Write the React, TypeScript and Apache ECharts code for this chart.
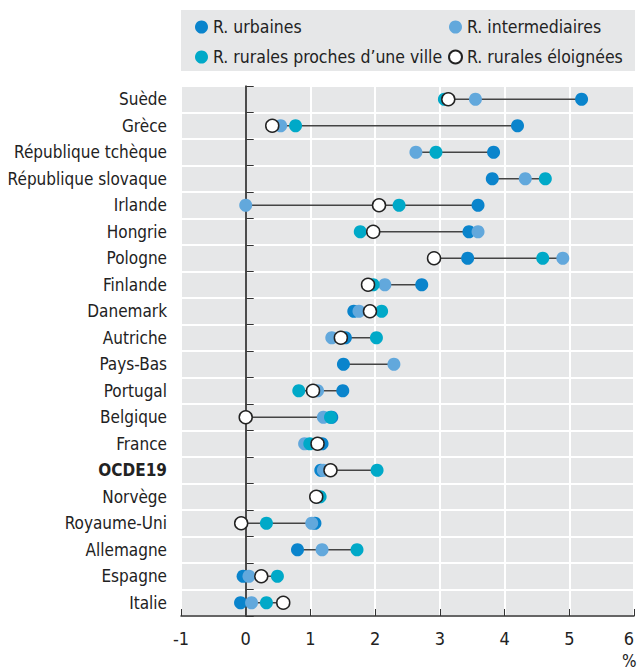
import React, { useEffect, useRef } from "react";
import * as echarts from "echarts";

const categories = [
  "Suède", "Grèce", "République tchèque", "République slovaque", "Irlande",
  "Hongrie", "Pologne", "Finlande", "Danemark", "Autriche", "Pays-Bas",
  "Portugal", "Belgique", "France", "OCDE19", "Norvège", "Royaume-Uni",
  "Allemagne", "Espagne", "Italie",
];
const urbaines = [5.19, 4.2, 3.83, 3.81, 3.59, 3.45, 3.43, 2.72, 1.67, 1.54, 1.51, 1.5, 1.33, 1.18, 1.16, 1.1, 1.07, 0.8, -0.04, -0.08];
const intermediaires = [3.55, 0.54, 2.63, 4.32, 0.0, 3.59, 4.9, 2.15, 1.75, 1.33, 2.29, 1.11, 1.2, 0.91, 1.2, 1.12, 1.02, 1.18, 0.05, 0.09];
const proches: (number | null)[] = [3.07, 0.77, 2.94, 4.63, 2.37, 1.77, 4.59, 1.97, 2.1, 2.02, null, 0.82, 1.31, 0.99, 2.03, 1.15, 0.32, 1.72, 0.49, 0.32];
const eloignees: (number | null)[] = [3.13, 0.41, null, null, 2.06, 1.97, 2.91, 1.89, 1.92, 1.47, null, 1.04, 0.0, 1.11, 1.31, 1.09, -0.07, null, 0.24, 0.58];
const xTicks = [-1, 0, 1, 2, 3, 4, 5, 6];

const names = ["R. urbaines", "R. intermediaires", "R. rurales proches d’une ville", "R. rurales éloignées"];
const colors = ["#0a84cc", "#62a8dc", "#00a9c8", "#ffffff"];
const FONT = "'DejaVu Sans Condensed', 'Liberation Sans Narrow', sans-serif";

export default function App() {
  const ref = useRef<HTMLDivElement>(null);
  useEffect(() => {
    const chart = echarts.init(ref.current!, null, { renderer: "svg" });
    const all = [urbaines, intermediaires, proches, eloignees];
    const ranges = categories.map((_, i) => {
      const vals = all.map((a) => a[i]).filter((v) => v != null) as number[];
      return [Math.min(...vals), i, Math.max(...vals)];
    });
    const toData = (arr: (number | null)[]) =>
      arr.map((v, i) => (v == null ? null : [v, i])).filter((d) => d != null);

    const scatter = (k: number) => ({
      type: "scatter",
      name: names[k],
      data: toData(all[k]),
      symbol: "circle",
      symbolSize: 13,
      z: 3 + k,
      itemStyle: {
        color: colors[k],
        opacity: 1,
        borderColor: k === 3 ? "#222" : colors[k],
        borderWidth: k === 3 ? 1.5 : 0,
      },
    });

    const s0: any = scatter(0);
    s0.markLine = {
      silent: true, symbol: "none", label: { show: false }, z: 1,
      lineStyle: { color: "#444", width: 1.5, type: "solid" },
      data: [{ xAxis: 0 }],
    };

    chart.setOption({
      animation: false,
      textStyle: { fontFamily: FONT },
      graphic: [
        { type: "rect", shape: { x: 181, y: 10, width: 454, height: 61 }, style: { fill: "#e6e7e8" }, z: -1 },
        { type: "text", x: 622, y: 652, style: { text: "%", fontSize: 17, fill: "#222", fontFamily: FONT } },
      ],
      legend: [
        {
          data: [names[0], names[2]], orient: "vertical", left: 190, top: 13, itemGap: 12,
          icon: "circle", itemWidth: 13, itemHeight: 13,
          textStyle: { fontSize: 17.5, color: "#222", fontFamily: FONT },
        },
        {
          data: [names[1], names[3]], orient: "vertical", left: 443, top: 13, itemGap: 12,
          icon: "circle", itemWidth: 13, itemHeight: 13,
          textStyle: { fontSize: 17.5, color: "#222", fontFamily: FONT },
        },
      ],
      grid: {
        left: 181, right: 3, top: 86, bottom: 55, show: true,
        backgroundColor: "#e6e7e8", borderWidth: 0,
        outerBoundsMode: "none", containLabel: false,
      },
      xAxis: {
        type: "value", min: -1, max: 6, interval: 1,
        axisLine: { show: true, lineStyle: { color: "#333", width: 1.5 } },
        axisTick: { show: true, inside: true, length: 7, lineStyle: { color: "#333" } },
        splitLine: { show: true, lineStyle: { color: "#ffffff", width: 2 } },
        axisLabel: {
          fontSize: 18, color: "#222", margin: 13, fontFamily: FONT,
          alignMaxLabel: "right",
          formatter: (v: number) => (xTicks.includes(v) ? String(v) : ""),
        },
      },
      yAxis: {
        type: "category", data: categories, inverse: true,
        axisLine: { show: true, lineStyle: { color: "#333", width: 1.5 } },
        axisTick: { show: true, inside: true, length: 8, lineStyle: { color: "#333" } },
        splitLine: { show: true, lineStyle: { color: "#ffffff", width: 2 } },
        axisLabel: {
          fontSize: 17, color: "#222", margin: 14, fontFamily: FONT,
          formatter: (v: string) => (v === "OCDE19" ? `{b|${v}}` : v),
          rich: { b: { fontWeight: "bold", fontSize: 17, color: "#222", fontFamily: FONT } },
        },
      },
      series: [
        {
          type: "custom",
          data: ranges,
          z: 2,
          silent: true,
          renderItem: (_p: any, api: any) => {
            const a = api.coord([api.value(0), api.value(1)]);
            const b = api.coord([api.value(2), api.value(1)]);
            return {
              type: "line",
              shape: { x1: a[0], y1: a[1], x2: b[0], y2: b[1] },
              style: { stroke: "#444", lineWidth: 1.3 },
            };
          },
        },
        s0, scatter(1), scatter(2), scatter(3),
      ],
    });
    return () => chart.dispose();
  }, []);
  return <div ref={ref} style={{ width: 637, height: 671, position: "absolute", left: 0, top: 0 }} />;
}
